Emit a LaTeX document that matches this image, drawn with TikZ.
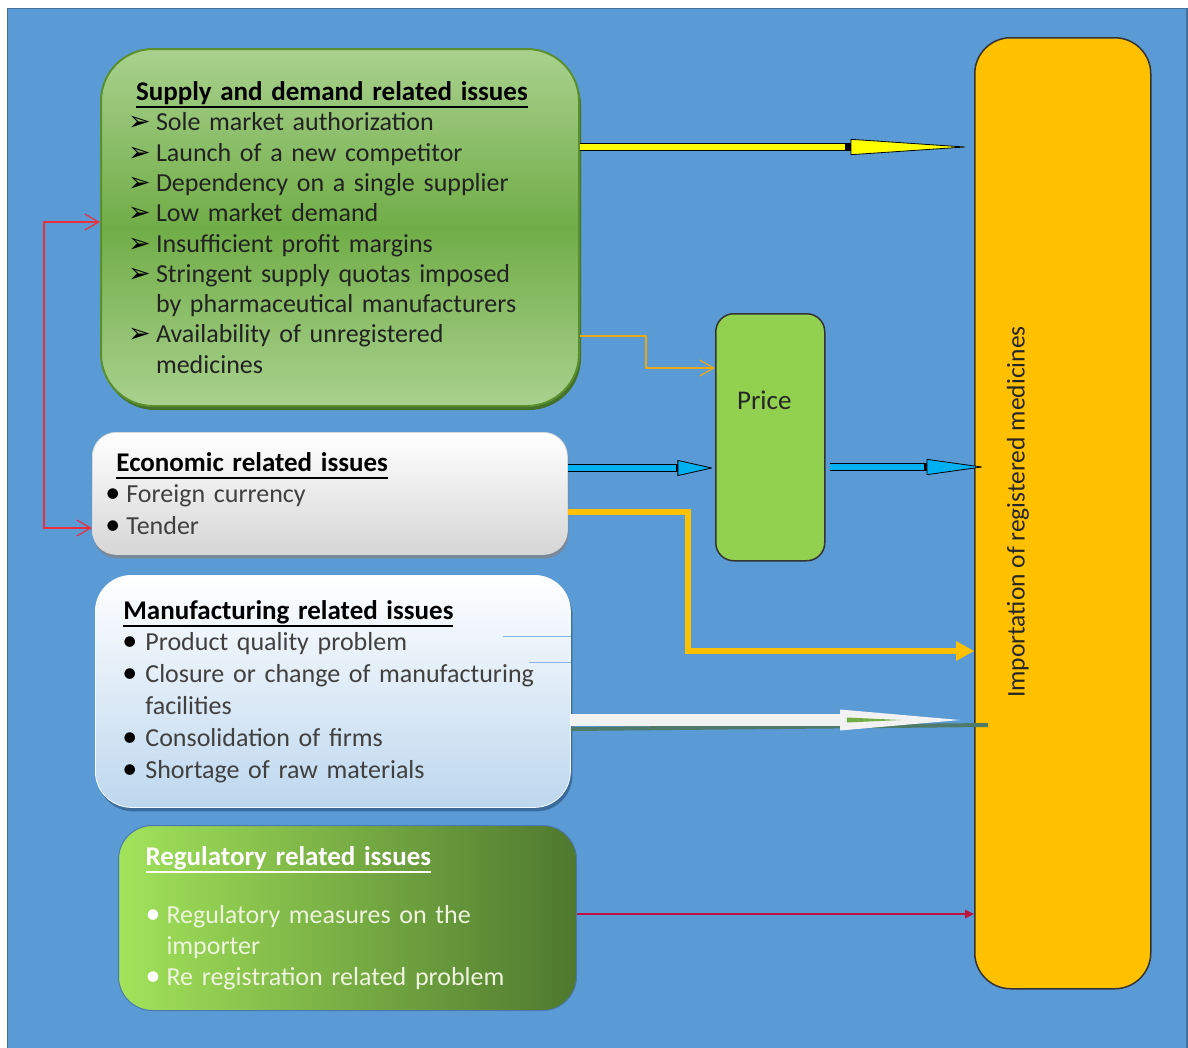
\documentclass[tikz,border=0pt]{standalone}
\usepackage{fontspec}
\setmainfont{Carlito}
\newfontfamily\symbolfont{DejaVu Sans}
\usepackage{xcolor}
\usepackage{tikz}
\usetikzlibrary{arrows.meta,positioning,calc,shadows}

\definecolor{bgblue}{HTML}{5B9BD5}
\definecolor{bgedge}{HTML}{41719C}
\definecolor{supTop}{HTML}{A9D18E}
\definecolor{supMid}{HTML}{70AD47}
\definecolor{supEdge}{HTML}{5A8F30}
\definecolor{supShade}{HTML}{44722A}
\definecolor{supText}{HTML}{222222}
\definecolor{ecoBot}{HTML}{D6D6D6}
\definecolor{ecoShade}{HTML}{7A8898}
\definecolor{manBot}{HTML}{BDD7EE}
\definecolor{manShade}{HTML}{3C6C9C}
\definecolor{greyText}{HTML}{404040}
\definecolor{regLeft}{HTML}{A2E35A}
\definecolor{regRight}{HTML}{4E782E}
\definecolor{regEdge}{HTML}{4A78B0}
\definecolor{regText}{HTML}{EEF4DE}
\definecolor{priceGreen}{HTML}{92D050}
\definecolor{impOrange}{HTML}{FFC000}
\definecolor{arrowyellow}{HTML}{FFFF00}
\definecolor{arrowblue}{HTML}{00B0F0}
\definecolor{arrowgold}{HTML}{FFC000}
\definecolor{thingold}{HTML}{E8A815}
\definecolor{arrowwhite}{HTML}{F2F2F2}
\definecolor{arrowgreen}{HTML}{70AD47}
\definecolor{wshadowcol}{HTML}{4F7A6A}
\definecolor{linkred}{HTML}{E8303E}
\definecolor{crimson}{HTML}{C0143C}
\definecolor{faintblue}{HTML}{8DB4E2}

\newcommand{\arrowbullet}{\makebox[28pt][l]{\textcolor{black}{\symbolfont\fontsize{27}{27}\selectfont ➢}}}
\newcommand{\dotbullet}[2][black]{\makebox[#2][l]{\textcolor{#1}{\fontsize{30}{30}\selectfont •}}}
\newcommand{\boxtitle}[1]{{\setbox0\hbox{\textbf{#1}}\rlap{\rule[-7.5pt]{\wd0}{2pt}}\box0}}

\begin{document}
\begin{tikzpicture}[
    x=1pt, y=-1pt,
    >=Latex,
    issue/.style={anchor=north west, align=left, inner ysep=0pt},
    supbox/.style={issue, rounded corners=52pt, text width=424pt, inner xsep=27pt, minimum height=357pt,
        draw=supEdge, line width=2pt, top color=supTop, bottom color=supTop, middle color=supMid,
        drop shadow={shadow xshift=2pt, shadow yshift=-4pt, fill=supShade, opacity=1},
        text=supText, font=\fontsize{26}{30.3}\selectfont},
    ecobox/.style={issue, rounded corners=24pt, text width=449pt, inner xsep=13pt, minimum height=122pt,
        draw=white!85!black, line width=0.8pt, top color=white, bottom color=ecoBot,
        drop shadow={shadow xshift=1pt, shadow yshift=-4pt, fill=ecoShade, opacity=1},
        text=greyText, font=\fontsize{26}{31.5}\selectfont},
    manbox/.style={issue, rounded corners=36pt, text width=421pt, inner xsep=27pt, minimum height=232pt,
        draw=white!90!manBot, line width=0.8pt, top color=white, bottom color=manBot,
        drop shadow={shadow xshift=2pt, shadow yshift=-4pt, fill=manShade, opacity=1},
        text=greyText, font=\fontsize{26}{31.8}\selectfont},
    regbox/.style={issue, rounded corners=34pt, text width=404pt, inner xsep=27pt, minimum height=185pt,
        draw=regEdge, line width=1pt, left color=regLeft, right color=regRight,
        text=regText, font=\fontsize{26}{31}\selectfont},
    pricebox/.style={anchor=north west, rounded corners=18pt, minimum width=109pt, minimum height=247pt,
        draw=black!80, line width=1.5pt, fill=priceGreen, text=black!85,
        font=\fontsize{27}{30}\selectfont, text height=17pt, text depth=73pt},
    impbox/.style={anchor=north west, rounded corners=36pt, minimum width=176pt, minimum height=951pt,
        draw=black!80, line width=1.5pt, fill=impOrange, inner sep=0pt},
    implabel/.style={rotate=90, text=black!85, font=\fontsize{25.5}{30}\selectfont},
    fatarrow/.style n args={5}{draw=black, line width=#2,
        -{Triangle[length=#4, width=#5, fill=#1, line width=0.8pt, round]},
        postaction={draw=#1, line width=#3, -, shorten >=#4}},
    redlink/.style={draw=linkred, line width=1.2pt},
    thinlink/.style={draw=thingold, line width=1.2pt},
    goldlink/.style={draw=arrowgold, line width=6pt},
    whitelink/.style={draw=arrowwhite, line width=12pt},
    crimsonlink/.style={draw=crimson, line width=2.5pt},
    faintline/.style={draw=faintblue, line width=1pt}
]

\useasboundingbox (0,0) rectangle (1188,1047);
\draw[bgedge, line width=1.5pt, fill=bgblue] (7.5,8.5) rectangle (1187,1050);

% issue boxes
\node[supbox] (sup) at (100,48) {\hspace*{8pt}\textcolor{black}{\fontsize{27}{30.3}\selectfont\boxtitle{Supply and demand related issues}}\\
\arrowbullet Sole market authorization\\
\arrowbullet Launch of a new competitor\\
\arrowbullet Dependency on a single supplier\\
\arrowbullet Low market demand\\
\arrowbullet Insufficient profit margins\\
\arrowbullet Stringent supply quotas imposed\\
\hspace*{28pt}by pharmaceutical manufacturers\\
\arrowbullet Availability of unregistered\\
\hspace*{28pt}medicines};

\node[ecobox] (eco) at (92,432) {\hspace*{11pt}\textcolor{black}{\fontsize{27}{31.5}\selectfont\boxtitle{Economic related issues}}\\
\dotbullet{21pt}Foreign currency\\
\dotbullet{21pt}Tender};

\node[manbox] (manu) at (95,575) {\hspace*{1pt}\textcolor{black}{\fontsize{27}{31.8}\selectfont\boxtitle{Manufacturing related issues}}\\
\dotbullet{23pt}Product quality problem\\
\dotbullet{23pt}Closure or change of manufacturing\\
\hspace*{23pt}facilities\\
\dotbullet{23pt}Consolidation of firms\\
\dotbullet{23pt}Shortage of raw materials};

\node[regbox] (reg) at (118,825) {\textcolor{white}{\fontsize{27}{31}\selectfont\boxtitle{Regulatory related issues}}\\[27pt]
\dotbullet[white]{21pt}Regulatory measures on the\\
\hspace*{21pt}importer\\
\dotbullet[white]{21pt}Re registration related problem};

\node[pricebox] (price) at (715,313) {Price\hspace*{12pt}};

\node[impbox] (imp) at (974,37) {};
\node[implabel] (imptext) at (1018,512) {Importation of registered medicines};

% connectors
\coordinate (rjoint) at (44,375);
\draw[redlink, {Straight Barb[length=14pt,width=16pt]}-{Straight Barb[length=14pt,width=16pt]}]
    (sup.west |- 0,222) -| (rjoint) |- (eco.west |- 0,528);

\draw[fatarrow={arrowyellow}{8pt}{6pt}{120pt}{16pt}] (sup.east |- 0,147) -- ($(imp.west |- 0,147)+(-9,0)$);

\coordinate (tjoint) at (646,350);
\draw[thinlink, -{Straight Barb[length=14pt,width=16pt]}] (sup.east |- 0,336) -| (tjoint) |- (price.west |- 0,368);

\draw[fatarrow={arrowblue}{8pt}{6pt}{36pt}{16pt}] (eco.east |- 0,468) -- ($(price.west |- 0,468)+(-3,0)$);
\draw[fatarrow={arrowblue}{8pt}{6pt}{58pt}{16pt}] ($(price.east |- 0,467)+(4,0)$) -- ($(imp.west |- 0,467)+(8,0)$);

\coordinate (gjoint) at (688,580);
\draw[goldlink, -{Triangle[length=18pt,width=20pt,line width=0pt]}] (eco.east |- 0,512) -| (gjoint) |- (imp.west |- 0,651);

\draw[faintline] ($(manu.east |- 0,636)+(-68,0)$) -- (manu.east |- 0,636);
\draw[faintline] ($(manu.east |- 0,662)+(-42,0)$) -- (manu.east |- 0,662);

\draw[draw=wshadowcol, line width=4pt] (manu.east |- 0,729) -- ($(imp.west |- 0,725)+(14,0)$);
\draw[whitelink, -{Triangle[length=120pt,width=21pt,line width=0pt]}] (manu.east |- 0,720) -- ($(imp.west |- 0,720)+(-14,0)$);
\fill[arrowgreen] ($(manu.east |- 0,720)+(276,-2.5)$) -- ++(54,2.5) -- ++(-54,2.5) -- cycle;

\draw[crimsonlink, -{Triangle[length=9pt,width=9pt,line width=0pt]}] (reg.east |- 0,914) -- (imp.west |- 0,914);

\end{tikzpicture}
\end{document}
